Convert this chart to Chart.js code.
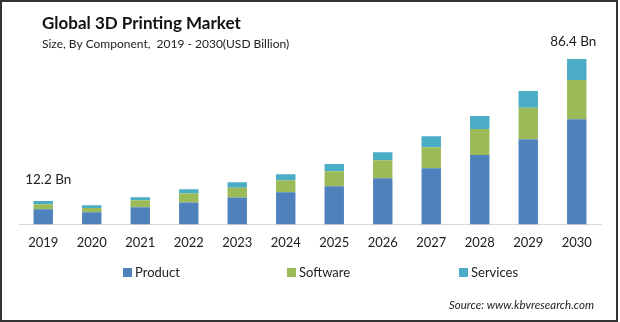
<!DOCTYPE html>
<html>
<head>
<meta charset="utf-8">
<script src="https://cdn.jsdelivr.net/npm/chart.js@4/dist/chart.umd.min.js"></script>
<style>
html,body{margin:0;padding:0;background:#fff;}
#wrap{position:relative;width:620px;height:322px;}
#c{position:absolute;left:0;top:0;}
#border{position:absolute;left:0;top:0;width:618px;height:322px;box-sizing:border-box;border:2px solid #333;pointer-events:none;}
</style>
</head>
<body>
<div id="wrap"><canvas id="c" width="620" height="322"></canvas><div id="border"></div></div>
<script>
const years = ['2019','2020','2021','2022','2023','2024','2025','2026','2027','2028','2029','2030'];
const product  = [7.9, 6.3, 8.9, 11.5, 14.1, 16.8, 19.9, 24.1, 29.3, 36.2, 44.5, 55.0];
const software = [2.6, 2.3, 3.7, 4.7, 5.1, 6.3, 7.9, 9.4, 11.0, 13.6, 16.4, 20.4];
const services = [1.7, 1.4, 1.6, 2.1, 2.8, 3.1, 3.7, 4.2, 5.8, 6.8, 8.8, 11.0];
const seriesNames = ['Product','Software','Services'];
const seriesColors = ['#4f81bd','#9bbb59','#4bacc6'];
const endLabels = {0:'12.2 Bn', 11:'86.4 Bn'};
const titleText = 'Global 3D Printing Market';
const subtitleText = 'Size, By Component,  2019 - 2030(USD Billion)';
const sourceText = 'Source: www.kbvresearch.com';

const FONT = 'Lato, "Open Sans", sans-serif';

const overlay = {
  id:'overlay',
  afterDraw(chart){
    const ctx = chart.ctx;
    ctx.save();
    ctx.fillStyle = '#111';
    ctx.textBaseline = 'middle';
    ctx.textAlign = 'left';
    ctx.font = 'bold 17px ' + FONT;
    ctx.fillText(titleText, 42, 24);
    ctx.fillStyle = '#222';
    ctx.font = '12px ' + FONT;
    ctx.fillText(subtitleText, 42, 44);
    // end labels
    const meta = chart.getDatasetMeta(2);
    ctx.font = '13.5px ' + FONT;
    ctx.fillStyle = '#222';
    ctx.textAlign = 'center';
    const offs = {0:[5,-21], 11:[-3.5,-17]};
    for (const k in endLabels){
      const el = meta.data[k];
      ctx.fillText(endLabels[k], el.x + offs[k][0], el.y + offs[k][1]);
    }
    // legend
    const lx = [123, 287, 459];
    ctx.textAlign = 'left';
    ctx.font = '13px ' + FONT;
    seriesNames.forEach((n,i)=>{
      ctx.fillStyle = seriesColors[i];
      ctx.fillRect(lx[i], 268, 9, 9);
      ctx.fillStyle = '#222';
      ctx.fillText(n, lx[i] + 12, 272.5);
    });
    // source
    ctx.font = 'italic 11.5px ' + FONT;
    ctx.textAlign = 'right';
    ctx.fillStyle = '#222';
    ctx.fillText(sourceText, 594, 305);
    ctx.restore();
  }
};

new Chart(document.getElementById('c'), {
  type:'bar',
  data:{
    labels: years,
    datasets: [
      {label:seriesNames[0], data:product, backgroundColor:seriesColors[0]},
      {label:seriesNames[1], data:software, backgroundColor:seriesColors[1]},
      {label:seriesNames[2], data:services, backgroundColor:seriesColors[2]}
    ]
  },
  options:{
    responsive:false,
    animation:false,
    events:[],
    layout:{padding:{left:19, right:19, top:33, bottom:60}},
    datasets:{bar:{barPercentage:0.4, categoryPercentage:1.0, borderWidth:0}},
    plugins:{legend:{display:false}, title:{display:false}, tooltip:{enabled:false}},
    scales:{
      x:{stacked:true,
         grid:{display:false, drawTicks:false},
         border:{display:true, color:'#d9d9d9', width:1},
         ticks:{padding:11, color:'#222', font:{family:FONT, size:13}}},
      y:{stacked:true, display:false, min:0, max:100}
    }
  },
  plugins:[overlay]
});
</script>
</body>
</html>
